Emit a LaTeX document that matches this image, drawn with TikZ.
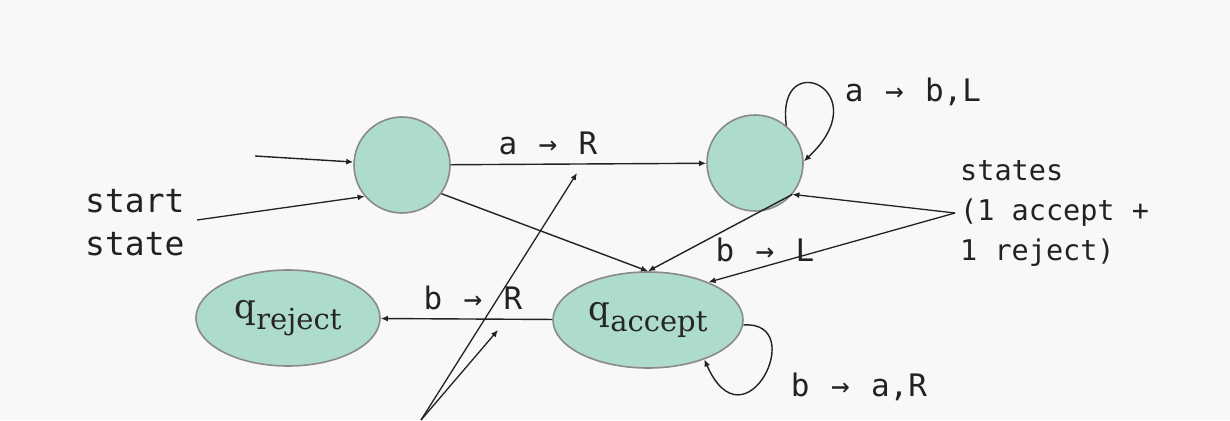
\documentclass[tikz,border=0pt]{standalone}
\usepackage{fontspec}
\usetikzlibrary{shapes.geometric,arrows.meta}
\newfontfamily\monofont{DejaVu Sans Mono}
\newfontfamily\qfont{DejaVu Serif}
\definecolor{bgc}{HTML}{F8F8F8}
\definecolor{statefill}{HTML}{AEDCCB}
\definecolor{rim}{HTML}{8A8A8A}
\definecolor{ink}{HTML}{222222}
\newcommand{\qlab}[1]{{\qfont\fontsize{34}{40}\selectfont q\raisebox{-11pt}{\fontsize{29}{34}\selectfont #1}}}
\newcommand{\lgap}{\hspace{0.69em}}
\begin{document}
\begin{tikzpicture}[x=1pt,y=-1pt,
  statec/.style={circle, fill=statefill, draw=rim, line width=1.6pt, minimum size=96pt, inner sep=0pt},
  stateq/.style={ellipse, fill=statefill, draw=rim, line width=1.6pt, minimum height=96pt, inner sep=0pt, text=black!85},
  edge/.style={draw=ink, line width=1.4pt, -{Latex[length=7pt,width=6pt]}},
  ptr/.style={draw=ink, line width=1.3pt, -{Latex[length=7pt,width=6pt]}},
  lbl/.style={font=\monofont\fontsize{31}{36}\selectfont, text=ink, inner sep=0pt},
  note/.style={font=\monofont\fontsize{28.5}{40}\selectfont, text=ink, align=left, inner sep=0pt}
]
\fill[bgc] (0,0) rectangle (1230,420);
\useasboundingbox (0,0) rectangle (1230,420);

% states
\node[statec] (c1) at (402,165) {};
\node[statec] (c2) at (755,163) {};
\node[stateq, minimum width=184pt] (rej) at (288,318) {\qlab{reject}};
\node[stateq, minimum width=190pt] (acc) at (648,320) {\qlab{accept}};

% free ends
\coordinate (s0) at (255,156);
\coordinate (ss) at (197,220);
\coordinate (st) at (955,213);
\coordinate (bt) at (421,420);
\coordinate (t1) at (577,173);
\coordinate (t2) at (498,330);

% transitions
\draw[edge] (s0) -- (c1);
\draw[edge] (c1) -- (c2);
\draw[edge] (c1.-36) -- (acc.north);
\draw[edge] (c2.-40) -- (acc.north);
\draw[edge] (acc) -- (rej);
\draw[edge] (c2.50) .. controls (775,45) and (880,90) .. (c2.2);
\draw[edge] (acc.-3) .. controls (810,320) and (745,452) .. (acc.-35);

% transition labels
\node[lbl] (l1) at (548,143) {a\lgap→\lgap R};
\node[lbl] (l2) at (913,92) {a\lgap→\lgap b,L};
\node[lbl] (l3) at (473,298) {b\lgap→\lgap R};
\node[lbl] (l4) at (765,250) {b\lgap→\lgap L};
\node[lbl] (l5) at (859,387) {b\lgap→\lgap a,R};

% annotations
\node[note, anchor=west, font=\monofont\fontsize{33}{43}\selectfont] (sl) at (85,223) {start\\state};
\node[note, anchor=west] (sn) at (960,213) {states\\(1 accept +\\1 reject)};
\draw[ptr] (ss) -- (c1.-140);
\draw[ptr] (st) -- (c2.-40);
\draw[ptr] (st) -- (acc.32);
\draw[ptr] (bt) -- (t1);
\draw[ptr] (bt) -- (t2);
\end{tikzpicture}
\end{document}
